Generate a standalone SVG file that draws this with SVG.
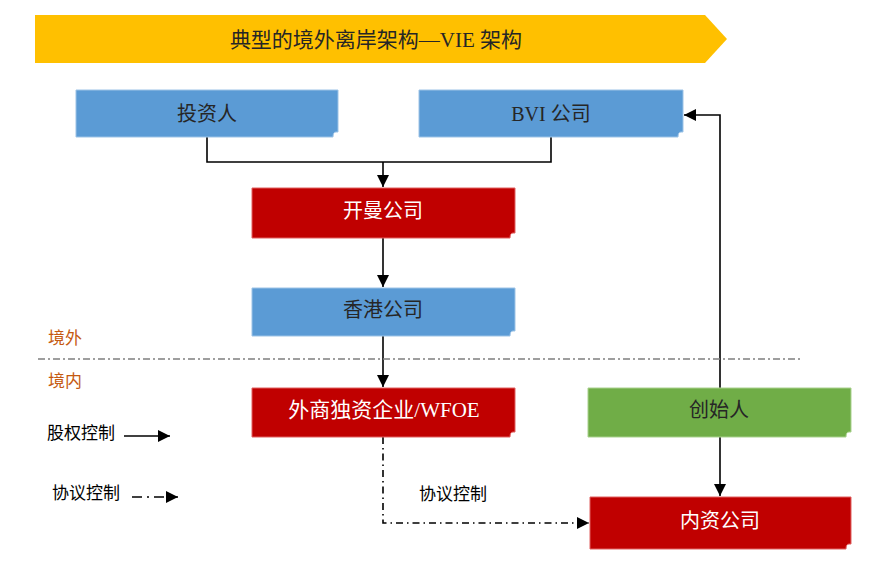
<svg xmlns="http://www.w3.org/2000/svg" width="882" height="565" viewBox="0 0 882 565">
<defs>
<style>
.box{stroke-width:1}
.blue{fill:#5B9BD5;stroke:#9DC3E6}
.red{fill:#C00000;stroke:#E06060}
.green{fill:#70AD47;stroke:#A9D18E}
.t{font-family:"Liberation Serif","Noto Sans CJK SC",serif;font-size:20px;text-anchor:middle}
.dark{fill:#262626}
.white{fill:#FFFFFF}
.lab{font-family:"Noto Sans CJK SC","Noto Sans",sans-serif;font-size:17px}
.orange{fill:#C55A11}
.ln{fill:none;stroke:#000;stroke-width:1.6}
.dd{fill:none;stroke:#000;stroke-width:1.6;stroke-dasharray:7 4 1.5 4}
</style>
<marker id="ah2" viewBox="0 0 10 10" refX="10" refY="5" markerWidth="12" markerHeight="12" markerUnits="userSpaceOnUse" orient="auto">
<path d="M0,0 L10,5 L0,10 Z" fill="#000"/>
</marker>
</defs>
<rect width="882" height="565" fill="#fff"/>
<g id="title">
<path d="M35,15 H705 L727,39 L705,63 H35 Z" fill="#FFC000"/>
<text x="376" y="47" class="t dark" style="font-size:21px">典型的境外离岸架构—VIE 架构</text>
</g>
<g id="connectors">
<path class="ln" d="M207,137 V162 H551 V137"/>
<path class="ln" d="M383,162 V187" marker-end="url(#ah2)"/>
<path class="ln" d="M383,238 V287" marker-end="url(#ah2)"/>
<path class="ln" d="M383,336 V387" marker-end="url(#ah2)"/>
<path class="ln" d="M720,388 V115 H684" marker-end="url(#ah2)"/>
<path class="ln" d="M720,437 V496" marker-end="url(#ah2)"/>
<path class="dd" d="M383,437 V523 H589" marker-end="url(#ah2)"/>
</g>
<g id="border-line">
<path d="M38,359 H800" stroke="#7F7F7F" stroke-width="1.6" stroke-dasharray="7 3 2 3" fill="none"/>
<text x="48" y="344" class="lab orange">境外</text>
<text x="48" y="387" class="lab orange">境内</text>
</g>
<g id="investor">
<path class="box blue" d="M76,90 H338 V132 H336 Q333,132 333,137 H76 Z"/>
<text x="207" y="121" class="t dark">投资人</text>
</g>
<g id="bvi">
<path class="box blue" d="M419,90 H683 V132 H681 Q678,132 678,137 H419 Z"/>
<text x="551" y="121" class="t dark">BVI 公司</text>
</g>
<g id="cayman">
<path class="box red" d="M252,188 H515 V233 H513 Q510,233 510,238 H252 Z"/>
<text x="383" y="218" class="t white">开曼公司</text>
</g>
<g id="hk">
<path class="box blue" d="M252,288 H515 V331 H513 Q510,331 510,336 H252 Z"/>
<text x="383" y="317" class="t dark">香港公司</text>
</g>
<g id="wfoe">
<path class="box red" d="M252,388 H515 V432 H513 Q510,432 510,437 H252 Z"/>
<text x="384" y="417" class="t white" style="font-size:21px">外商独资企业/WFOE</text>
</g>
<g id="founder">
<path class="box green" d="M588,388 H851 V432 H849 Q846,432 846,437 H588 Z"/>
<text x="719" y="417" class="t dark">创始人</text>
</g>
<g id="domestic">
<path class="box red" d="M590,497 H851 V544 H849 Q846,544 846,549 H590 Z"/>
<text x="720" y="528" class="t white">内资公司</text>
</g>
<g id="agreement-label">
<text x="419" y="500" class="lab" fill="#000">协议控制</text>
</g>
<g id="legend">
<text x="47" y="439" class="lab" fill="#000">股权控制</text>
<path class="ln" d="M124,436 H170" marker-end="url(#ah2)"/>
<text x="52" y="499" class="lab" fill="#000">协议控制</text>
<path class="dd" d="M132,497 H178" marker-end="url(#ah2)" style="stroke-dasharray:10 5 2 5"/>
</g>
</svg>
